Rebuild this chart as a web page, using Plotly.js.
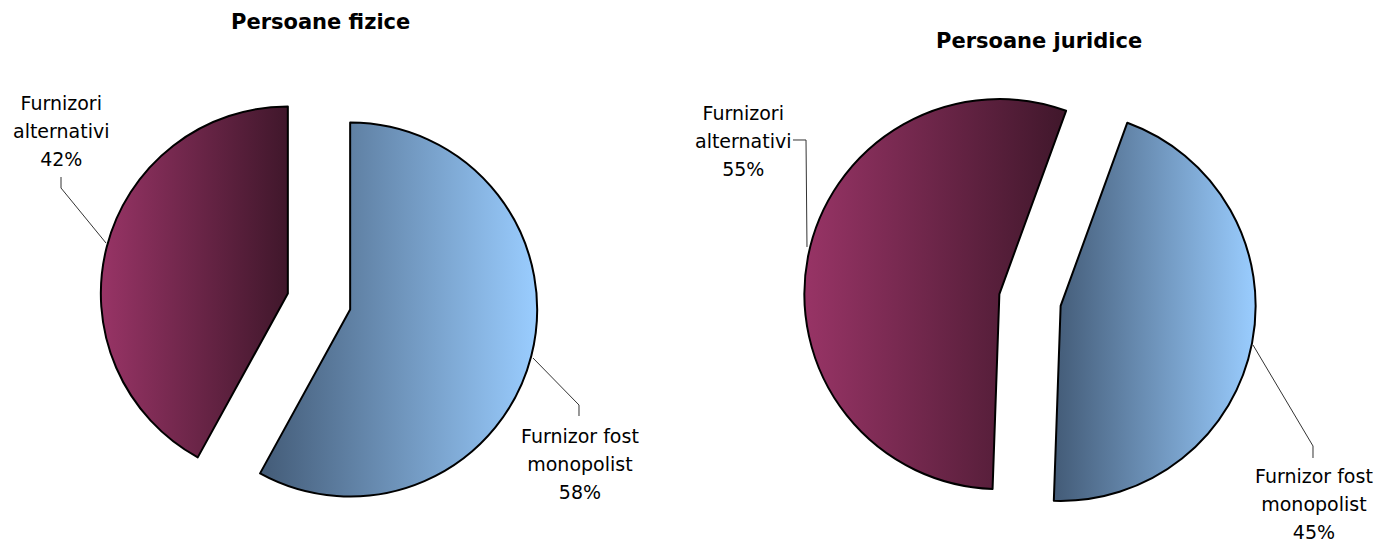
<!DOCTYPE html>
<html>
<head>
<meta charset="utf-8">
<script src="https://cdn.plot.ly/plotly-3.0.1.min.js"></script>
<style>
  html, body { margin: 0; padding: 0; background: #fff; }
  #chart { width: 1378px; height: 544px; }
</style>
</head>
<body>
<div id="chart"></div>
<script>
const W = 1378;
const H = 544;

// categories and values
const categories = ['Furnizor fost monopolist', 'Furnizori alternativi'];
const labelLines = ['Furnizor fost<br>monopolist', 'Furnizori<br>alternativi'];
const fiziceValues = [58, 42];
const juridiceValues = [45, 55];
const titles = ['Persoane fizice', 'Persoane juridice'];

const sliceColors = ['#6f90b8', '#7a2652'];
const gradients = {
    blue: ['#435b77', '#9acdff'],
    magenta: ['#983466', '#40172b']
};

// pixel helpers -> paper coords
const px = (x) => x / W;
const py = (y) => 1 - y / H;
function domainFor(cx, cy, half) {
    return { x: [px(cx - half), px(cx + half)], y: [py(cy + half), py(cy - half)] };
}
function pathFor(points) {
    return points.map((p, i) => (i ? 'L' : 'M') + px(p[0]).toFixed(5) + ',' + py(p[1]).toFixed(5)).join(' ');
}
function pct(values, i) {
    const total = values.reduce((a, b) => a + b, 0);
    return Math.round(values[i] / total * 100) + '%';
}
function labelText(values, i) {
    const lines = (labelLines[i] + '<br>' + pct(values, i)).split('<br>');
    return lines.map(l => '<span style="font-size:19px">' + l + '</span>').join('<br>');
}

const fiziceTrace = {
    type: 'pie',
    labels: categories,
    values: fiziceValues,
    sort: false,
    direction: 'clockwise',
    rotation: 0,
    pull: 0.172,
    textinfo: 'none',
    hoverinfo: 'label+percent',
    marker: { colors: sliceColors, line: { color: '#000', width: 2 } },
    domain: domainFor(319, 301.5, 187 * 1.172)
};

const juridiceTrace = {
    type: 'pie',
    labels: categories,
    values: juridiceValues,
    sort: false,
    direction: 'clockwise',
    rotation: 20,
    pull: 0.16,
    textinfo: 'none',
    hoverinfo: 'label+percent',
    marker: { colors: sliceColors, line: { color: '#000', width: 2 } },
    domain: domainFor(1030, 300, 195 * 1.16)
};

const labelFont = { family: 'DejaVu Sans, Verdana, sans-serif', size: 21.5, color: '#000' };
const titleFont = { family: 'DejaVu Sans, Verdana, sans-serif', size: 21, color: '#000' };

const annotations = [
    { text: '<b>' + titles[0] + '</b>', x: px(320), y: py(22), font: titleFont },
    { text: '<b>' + titles[1] + '</b>', x: px(1039), y: py(41), font: titleFont },
    { text: labelText(fiziceValues, 1), x: px(61), y: py(131), font: labelFont },
    { text: labelText(fiziceValues, 0), x: px(580), y: py(464), font: labelFont },
    { text: labelText(juridiceValues, 1), x: px(743), y: py(141), font: labelFont },
    { text: labelText(juridiceValues, 0), x: px(1314), y: py(504), font: labelFont }
].map(a => Object.assign({ xref: 'paper', yref: 'paper', xanchor: 'center', yanchor: 'middle', showarrow: false }, a));

// leader lines from slices to labels
const leaderLine = { color: '#333', width: 1 };
const shapes = [
    [[61, 177], [61, 188], [106, 243]],
    [[579, 416], [579, 405], [533, 358]],
    [[793, 140], [806, 140], [807, 247]],
    [[1313, 458], [1313, 446], [1253, 345]]
].map(pts => ({ type: 'path', xref: 'paper', yref: 'paper', path: pathFor(pts), line: leaderLine }));

const layout = {
    width: W,
    height: H,
    margin: { t: 0, b: 0, l: 0, r: 0 },
    paper_bgcolor: '#fff',
    showlegend: false,
    annotations: annotations,
    shapes: shapes
};

function addGradients() {
    const svg = document.querySelector('#chart .main-svg');
    const defs = svg.querySelector('defs');
    const ns = 'http://www.w3.org/2000/svg';
    Object.keys(gradients).forEach(name => {
        const g = document.createElementNS(ns, 'linearGradient');
        g.setAttribute('id', 'grad-' + name);
        g.setAttribute('x1', '0'); g.setAttribute('x2', '1');
        g.setAttribute('y1', '0'); g.setAttribute('y2', '0');
        gradients[name].forEach((c, i) => {
            const s = document.createElementNS(ns, 'stop');
            s.setAttribute('offset', i ? '1' : '0');
            s.setAttribute('stop-color', c);
            g.appendChild(s);
        });
        defs.appendChild(g);
    });
    document.querySelectorAll('#chart .pielayer .trace').forEach(tr => {
        const slices = tr.querySelectorAll('g.slice path.surface');
        if (slices[0]) slices[0].style.fill = 'url(#grad-blue)';
        if (slices[1]) slices[1].style.fill = 'url(#grad-magenta)';
    });
}

Plotly.newPlot('chart', [fiziceTrace, juridiceTrace], layout, { displayModeBar: false, staticPlot: true })
    .then(addGradients);
</script>
</body>
</html>
